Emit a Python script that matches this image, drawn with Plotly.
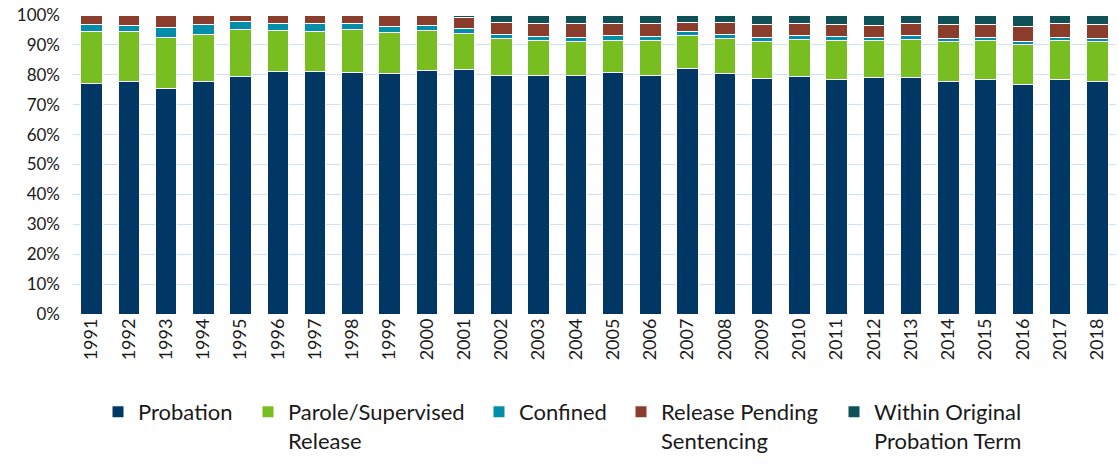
import plotly.graph_objects as go

years = [str(y) for y in range(1991, 2019)]

probation = [77.2, 77.9, 75.3, 77.6, 79.5, 81.0, 81.0, 80.9, 80.5, 81.4,
             81.8, 79.9, 79.7, 79.7, 80.8, 79.9, 81.8, 80.5, 78.9, 79.3,
             78.4, 79.0, 79.0, 77.8, 78.4, 76.8, 78.3, 77.9]
parole = [17.2, 16.5, 17.1, 15.9, 15.7, 13.9, 13.5, 14.1, 13.7, 13.4,
          12.1, 12.2, 11.7, 11.4, 10.6, 11.7, 11.0, 11.7, 12.2, 12.5,
          13.1, 12.4, 12.9, 13.5, 13.0, 13.4, 13.1, 13.2]
confined = [2.4, 2.0, 3.5, 3.4, 2.5, 2.1, 2.5, 2.0, 1.9, 1.7,
            1.5, 1.4, 1.5, 1.5, 1.6, 1.5, 1.4, 1.4, 1.5, 1.4,
            1.3, 1.2, 1.2, 1.0, 1.2, 1.1, 1.0, 1.0]
pending = [3.2, 3.6, 4.1, 3.1, 2.3, 3.0, 3.0, 3.0, 3.9, 3.5,
           3.8, 4.0, 4.3, 4.6, 4.3, 4.1, 2.8, 3.8, 4.1, 3.8,
           3.9, 3.9, 4.0, 4.5, 4.3, 5.0, 4.6, 4.6]
within = [0.0, 0.0, 0.0, 0.0, 0.0, 0.0, 0.0, 0.0, 0.0, 0.0,
          0.8, 2.5, 2.8, 2.8, 2.7, 3.0, 2.6, 2.6, 3.3, 3.0,
          3.3, 3.5, 2.9, 3.2, 3.1, 3.7, 3.0, 3.3]

names = ["Probation", "Parole/Supervised<br>Release", "Confined",
         "Release Pending<br>Sentencing", "Within Original<br>Probation Term"]
values = [probation, parole, confined, pending, within]
colors = ["#003764", "#78BE20", "#008EAA", "#8B3D2C", "#0E5257"]
legend_text_x = [137, 287, 518, 660, 873]  # px where each legend text starts

totals = [sum(col) for col in zip(*values)]

W, H = 1119, 466
font_family = "Lato, Open Sans, sans-serif"
fig = go.Figure()
layout_legends = {}
for i, (name, vals, color) in enumerate(zip(names, values, colors)):
    lg = "legend" if i == 0 else f"legend{i + 1}"
    fig.add_trace(go.Bar(
        x=years, y=[v / t for v, t in zip(vals, totals)], name=name,
        marker=dict(color=color, line=dict(color="white", width=1)),
        legend=lg,
    ))
    layout_legends[lg] = dict(
        xref="container", yref="container",
        x=(legend_text_x[i] - 39) / W, xanchor="left",
        y=1 - 391 / H, yanchor="top",
        font=dict(size=22, family=font_family, color="#1a1a1a"),
        valign="top", bgcolor="rgba(0,0,0,0)",
    )

fig.update_layout(
    barmode="stack",
    bargap=0.42,
    width=W, height=H,
    margin=dict(l=73, r=3, t=15, b=152, autoexpand=False),
    plot_bgcolor="white", paper_bgcolor="white",
    font=dict(family=font_family, color="#1a1a1a", size=17),
    showlegend=True,
    **layout_legends,
)
fig.update_yaxes(range=[0, 1], tickformat=".0%", dtick=0.1,
                 gridcolor="#C9E3F8", gridwidth=1, zeroline=False,
                 showline=False, ticks="", tickfont=dict(size=17),
                 ticklabelstandoff=12, ticklabeloverflow="allow")
fig.update_xaxes(tickangle=-90, showline=False, ticks="",
                 tickfont=dict(size=18))
fig.write_html("out.html",
               config={"displayModeBar": False},
               post_script="document.body.style.margin='0';")
